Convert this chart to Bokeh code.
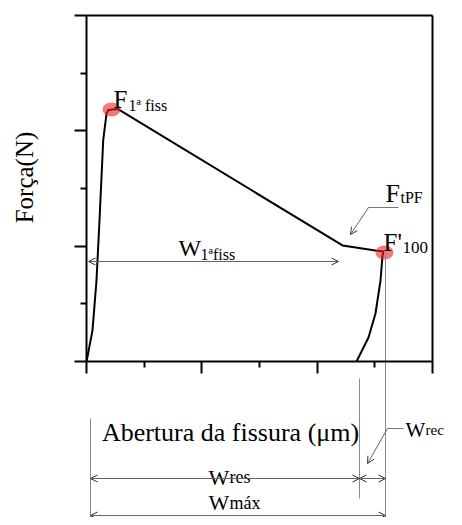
from math import pi
from bokeh.plotting import figure
from bokeh.models import LinearAxis, FixedTicker, Range1d, Arrow, OpenHead
from bokeh.core.properties import value
from bokeh.embed import file_html
from bokeh.resources import INLINE

# ---- data ----
crack_opening = [0, 2, 10.4, 17.3, 22.5, 29, 34.7, 38, 54,
                 443.9, 501.1, 515,
                 513.3, 509.8, 501.1, 489, 475.1, 468.2]
force = [0, 0.05, 0.27, 0.70, 1.22, 1.92, 2.15, 2.18, 2.19,
         1.006, 0.962, 0.954,
         0.919, 0.702, 0.416, 0.208, 0.069, 0]
marker_x = [43.4, 516.7]
marker_y = [2.185, 0.945]
x_major = [0, 200, 400, 600]
x_minor = [100, 300, 500]
y_major = [0, 1, 2, 3]
y_minor = [0.5, 1.5, 2.5]

# ---- layout helpers (picture pixel -> data) ----
PX_X = 0.5767
PX_Y = 115.33
def X(px):
    return (px - 86) / PX_X
def Y(py):
    return (361 - py) / PX_Y

W, H = 446, 517
FONT = value("Liberation Serif")

p = figure(width=W, height=H, output_backend="svg", toolbar_location=None,
           x_range=Range1d(X(0), X(W)), y_range=Range1d(Y(H), Y(0)),
           x_axis_type=None, y_axis_type=None, min_border=0)
p.outline_line_color = None
p.background_fill_color = "white"

def make_axis(fixed, bounds, major, minor, ticks=True):
    ax = LinearAxis(fixed_location=fixed, bounds=bounds,
                    ticker=FixedTicker(ticks=major, minor_ticks=minor),
                    axis_line_width=2, axis_line_color="black",
                    major_tick_in=0, major_tick_out=12,
                    minor_tick_in=0, minor_tick_out=6,
                    major_tick_line_width=2, minor_tick_line_width=2,
                    major_label_text_color=None)
    if not ticks:
        ax.major_tick_line_color = None
        ax.minor_tick_line_color = None
        ax.major_tick_out = 0
        ax.minor_tick_out = 0
    return ax

p.add_layout(make_axis(0, (0, 600), x_major, x_minor), "below")
p.add_layout(make_axis(0, (0, 3), y_major, y_minor), "left")
p.add_layout(make_axis(3, (0, 600), [0, 600], [], ticks=False), "above")
p.add_layout(make_axis(600, (0, 3), [0, 3], [], ticks=False), "right")

# curve
p.line(crack_opening, force, line_color="black", line_width=2)
# highlighted points
p.ellipse(marker_x, marker_y, width=18 / PX_X, height=14 / PX_Y,
          fill_color="#ee2222", fill_alpha=0.6, line_color=None)

# extension lines
EXT = "#8a8a8a"
p.segment(x0=[X(90), X(359), X(385)], y0=[Y(418), Y(378), Y(252)],
          x1=[X(90), X(359), X(385)], y1=[Y(530), Y(498), Y(530)],
          line_color=EXT, line_width=1)

# dimension arrows
def dim(x0, y0, x1, y1, both=True):
    head = dict(size=7, line_color="#333", line_width=1)
    p.add_layout(Arrow(x_start=X(x0), y_start=Y(y0), x_end=X(x1), y_end=Y(y1),
                       start=OpenHead(**head) if both else None,
                       end=OpenHead(**head),
                       line_color="#666", line_width=1))

dim(88, 261, 338, 261)
dim(90, 478, 359, 478)
dim(359, 478, 385, 478)
dim(90, 515, 385, 515)

# leaders
p.line([X(398), X(368)], [Y(207), Y(207)], line_color="#777", line_width=1)
dim(368, 207, 350, 234, both=False)
p.line([X(403), X(387)], [Y(428), Y(428)], line_color="#777", line_width=1)
dim(387, 428, 367, 463, both=False)

# texts
def txt(s, px, py, size, align="left", baseline="alphabetic", angle=0):
    p.text(x=[X(px)], y=[Y(py)], text=[s], text_font=FONT,
           text_font_size=f"{size}px", text_color="black",
           text_align=align, text_baseline=baseline, angle=angle)

txt("F", 113, 99, 25)
txt("1ª fiss", 128, 105, 16)
txt("W", 178, 247, 24)
txt("1ªfiss", 200, 254, 16)
txt("F", 385, 193, 26)
txt("tPF", 400, 197, 16)
txt("F'", 383, 242, 25)
txt("100", 402, 247, 17)
txt("Abertura da fissura (μm)", 230, 432, 26, align="center")
txt("Força(N)", 24, 177, 25, align="center", baseline="middle", angle=pi / 2)
txt("W", 208, 477, 22)
txt("res", 229, 476, 18)
txt("W", 208, 502, 22)
txt("máx", 229, 502, 18)
txt("W", 405, 429, 21)
txt("rec", 425, 429, 15)

open("out.html", "w").write(file_html(p, INLINE))
